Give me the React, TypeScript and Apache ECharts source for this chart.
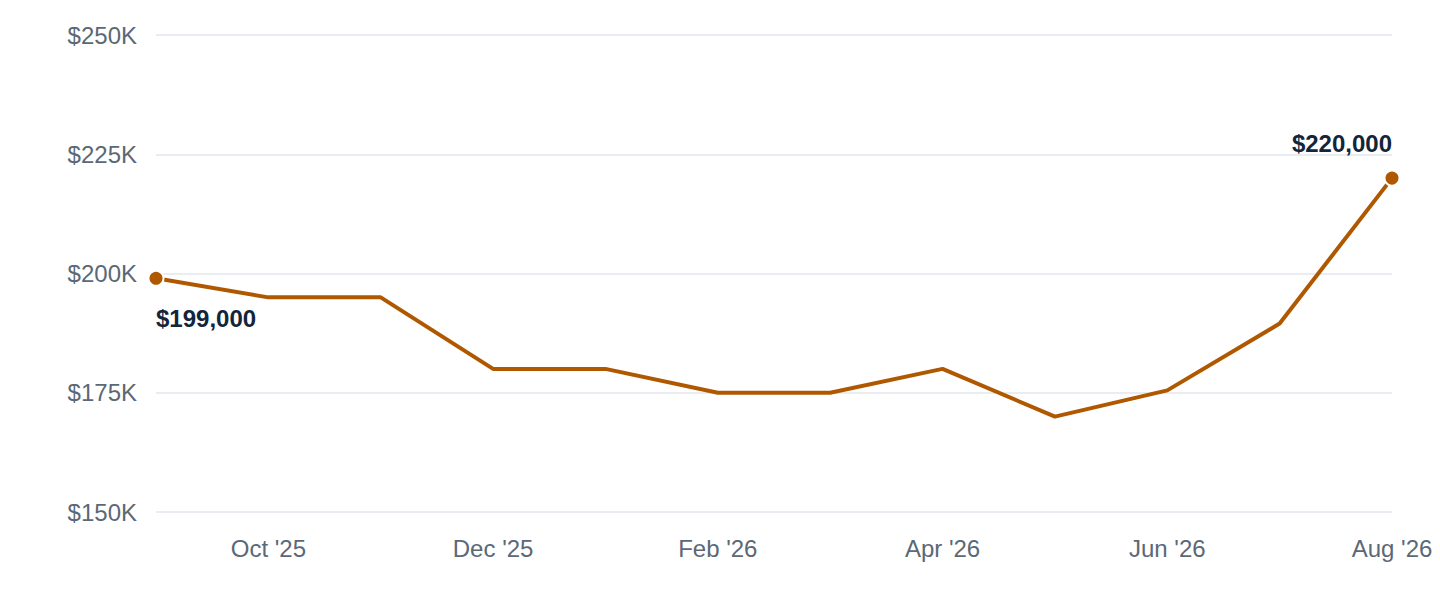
import React, { useEffect, useRef } from 'react';
import * as echarts from 'echarts';

const months = ["Sep '25", "Oct '25", "Nov '25", "Dec '25", "Jan '26", "Feb '26", "Mar '26", "Apr '26", "May '26", "Jun '26", "Jul '26", "Aug '26"];
const prices = [199000, 195000, 195000, 180000, 180000, 175000, 175000, 180000, 170000, 175500, 189500, 220000];
const yTicks = { min: 150000, max: 250000, step: 25000 };

const FONT = "'Helvetica Neue', Helvetica, Arial, 'Liberation Sans', sans-serif";
const LINE = '#b05800';

const money = (v: number) => '$' + v.toLocaleString('en-US');

const App: React.FC = () => {
    const chartRef = useRef<HTMLDivElement>(null);

    useEffect(() => {
        const chart = echarts.init(chartRef.current!, null, { renderer: 'svg' });
        const last = prices.length - 1;

        const seriesData = prices.map((v, i) => {
            if (i === 0) {
                return {
                    value: v,
                    symbolSize: 15,
                    label: { show: true, position: 'bottom', align: 'left', distance: 20 },
                };
            }
            if (i === last) {
                return {
                    value: v,
                    symbolSize: 15,
                    label: { show: true, position: 'top', align: 'right', distance: 14 },
                };
            }
            return { value: v, symbolSize: 0 };
        });

        chart.setOption({
            animation: false,
            textStyle: { fontFamily: FONT },
            grid: { left: 156, right: 48, top: 35, bottom: 88 },
            xAxis: {
                type: 'category',
                data: months,
                boundaryGap: false,
                axisLine: { show: false },
                axisTick: { show: false },
                axisLabel: {
                    interval: (i: number) => i % 2 === 1,
                    color: '#5b6876',
                    fontSize: 24,
                    margin: 24,
                    fontFamily: FONT,
                },
            },
            yAxis: {
                type: 'value',
                min: yTicks.min,
                max: yTicks.max,
                interval: yTicks.step,
                axisLine: { show: false },
                axisTick: { show: false },
                axisLabel: {
                    color: '#5b6876',
                    fontSize: 24,
                    margin: 19,
                    fontFamily: FONT,
                    formatter: (v: number) => '$' + v / 1000 + 'K',
                },
                splitLine: { lineStyle: { color: '#e2e6ec', width: 1.5 } },
            },
            series: [
                {
                    type: 'line',
                    data: seriesData,
                    symbol: 'circle',
                    showSymbol: true,
                    lineStyle: { color: LINE, width: 4 },
                    itemStyle: { color: LINE, borderColor: '#fff', borderWidth: 2 },
                    label: {
                        fontSize: 24,
                        fontWeight: 'bold',
                        color: '#13253a',
                        fontFamily: FONT,
                        formatter: (p: any) => money(p.value),
                    },
                    z: 3,
                },
            ],
        });

        return () => {
            chart.dispose();
        };
    }, []);

    return (
        <div
            ref={chartRef}
            style={{ position: 'absolute', left: 0, top: 0, width: 1440, height: 600, background: '#fff' }}
        />
    );
};

export default App;
